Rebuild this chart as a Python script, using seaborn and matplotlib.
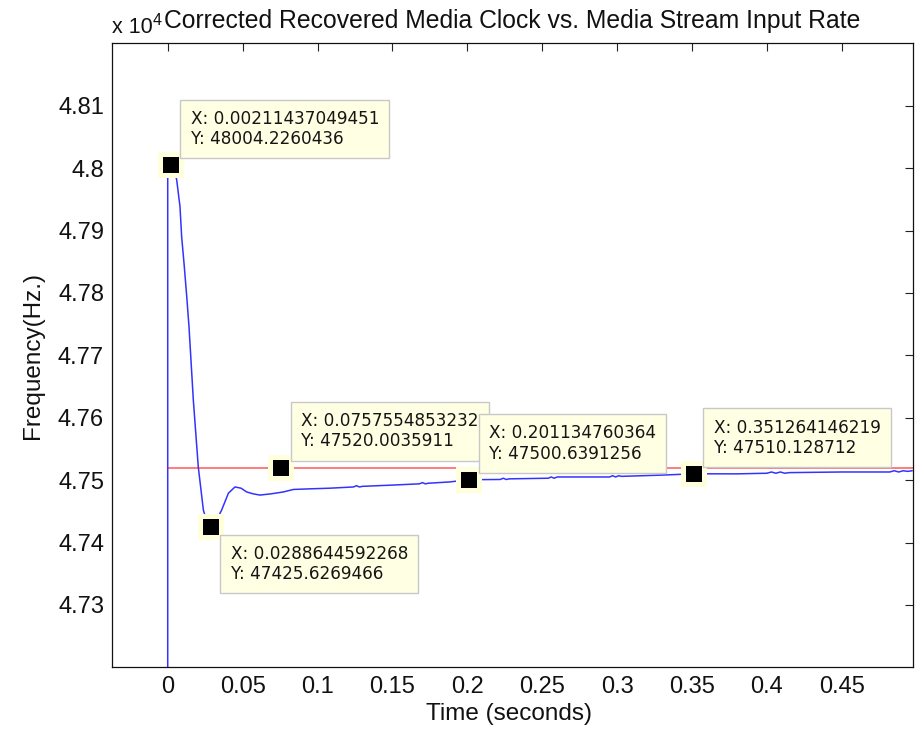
import matplotlib
matplotlib.use("Agg")
import matplotlib.pyplot as plt
import seaborn as sns
import pandas as pd

# Recovered media clock frequency over time (Hz)
time_s = [
    0.0, 0.0, 0.00211437049451, 0.0035, 0.0048, 0.0060, 0.0082, 0.0093,
    0.0109, 0.0127, 0.0142, 0.0171, 0.0204, 0.0238, 0.0265, 0.0288644592268,
    0.0320, 0.0360, 0.0405, 0.0449, 0.0490, 0.0527, 0.0570, 0.0616,
    0.0690, 0.0772, 0.0839, 0.0950, 0.1080, 0.1240, 0.1260, 0.1280,
    0.1300, 0.1500, 0.1680, 0.1700, 0.1720, 0.1740, 0.1880, 0.201134760364,
    0.2220, 0.2240, 0.2260, 0.2280, 0.2540, 0.2560, 0.2580, 0.2600,
    0.2950, 0.2970, 0.2990, 0.3010, 0.3030, 0.3300, 0.351264146219, 0.3800,
    0.4000, 0.4030, 0.4060, 0.4090, 0.4120, 0.4150, 0.4500, 0.4820,
    0.4850, 0.4880, 0.4910, 0.4940, 0.4970,
]
freq_hz = [
    47000, 48003, 48004.2260436, 48000, 47993, 47981, 47938, 47890,
    47847, 47794, 47746, 47628, 47521, 47452, 47430, 47425.6269466,
    47433, 47452, 47479, 47489, 47487, 47481, 47478, 47476,
    47478, 47481, 47485, 47486, 47487, 47489, 47491, 47489,
    47490, 47492, 47494, 47496, 47494, 47495, 47497, 47500.6391256,
    47501, 47503, 47501, 47502, 47503, 47505, 47503, 47505,
    47505, 47507, 47505, 47507, 47506, 47508, 47510.128712, 47510,
    47511, 47513, 47511, 47513, 47511, 47512, 47513, 47513,
    47515, 47513, 47515, 47514, 47515,
]

# Media stream input rate (Hz)
input_time_s = [0.0, 0.5]
input_rate_hz = [47520.0035911, 47520.0035911]

# Data cursor readouts
tip_x = [0.00211437049451, 0.0288644592268, 0.0757554853232,
         0.201134760364, 0.351264146219]
tip_y = [48004.2260436, 47425.6269466, 47520.0035911,
         47500.6391256, 47510.128712]
tip_x_text = ["0.00211437049451", "0.0288644592268", "0.0757554853232",
              "0.201134760364", "0.351264146219"]
tip_y_text = ["48004.2260436", "47425.6269466", "47520.0035911",
              "47500.6391256", "47510.128712"]

xtick_vals = [0, 0.05, 0.1, 0.15, 0.2, 0.25, 0.3, 0.35, 0.4, 0.45]
xtick_labels = ["0", "0.05", "0.1", "0.15", "0.2", "0.25", "0.3", "0.35", "0.4", "0.45"]
ytick_vals = [47300, 47400, 47500, 47600, 47700, 47800, 47900, 48000, 48100]
ytick_labels = ["4.73", "4.74", "4.75", "4.76", "4.77", "4.78", "4.79", "4.8", "4.81"]

sns.set_style("white")
plt.rcParams["font.family"] = ["Liberation Sans", "DejaVu Sans"]

W, H = 918, 731
fig = plt.figure(figsize=(W / 100, H / 100), dpi=100)
ax = fig.add_axes([111.7 / W, (H - 667.3) / H, 800.8 / W, 624.0 / H])

clock = pd.DataFrame({"t": time_s, "f": freq_hz})
rate = pd.DataFrame({"t": input_time_s, "f": input_rate_hz})
tips = pd.DataFrame({"t": tip_x, "f": tip_y})

sns.lineplot(data=clock, x="t", y="f", ax=ax, sort=False, estimator=None,
             color="#0000ff", alpha=0.8, lw=1.1, zorder=2)
sns.lineplot(data=rate, x="t", y="f", ax=ax, sort=False, estimator=None,
             color="#ff0000", alpha=0.65, lw=1.1, zorder=2)

# data cursor markers: pale halo behind a black square
sns.scatterplot(data=tips, x="t", y="f", ax=ax, marker="s", s=19.0 ** 2,
                color="#ffffdc", linewidth=0, zorder=4)
sns.scatterplot(data=tips, x="t", y="f", ax=ax, marker="s", s=11.0 ** 2,
                color="black", linewidth=0, zorder=5)

ax.set_xlim(-0.0374, 0.4972)
ax.set_ylim(47200, 48200)
ax.set_xticks(xtick_vals)
ax.set_xticklabels(xtick_labels)
ax.set_yticks(ytick_vals)
ax.set_yticklabels(ytick_labels)
ax.tick_params(direction="in", length=6, width=0.8, colors="#222222",
               top=True, right=True, labelsize=17, labelcolor="#111111")
ax.tick_params(axis="x", pad=6.0)
ax.tick_params(axis="y", pad=5.5)
for sp in ax.spines.values():
    sp.set_color("#111111")
    sp.set_linewidth(0.9)

ax.set_xlabel("Time (seconds)", fontsize=17.5, color="#111111")
ax.set_ylabel("Frequency(Hz.)", fontsize=17.5, color="#111111")
ax.xaxis.set_label_coords(0.4961, -0.057)
ax.yaxis.set_label_coords(-0.084, 0.5)

ax.set_title("Corrected Recovered Media Clock vs. Media Stream Input Rate",
             fontsize=17.8, pad=11, color="#111111")
fig.text(111.7 / W, (H - 33.3) / H, "x 10", fontsize=15.5, color="#111111",
         ha="left", va="baseline")
fig.text(152.5 / W, (H - 25.0) / H, "4", fontsize=11.5, color="#111111",
         ha="left", va="baseline")

# readout boxes: (above/below marker), later ones drawn on top
orient = ["up", "down", "up", "up", "up"]
pad_frac = 0.6
tip_fs = 12.2
pad_px = pad_frac * tip_fs * 100 / 72
for i, (x, y, xs, ys, o) in enumerate(zip(tip_x, tip_y, tip_x_text, tip_y_text, orient)):
    dx = 9.5 + pad_px
    if o == "up":
        dy, va = 7.0 + pad_px, "bottom"
    else:
        dy, va = -(8.0 + pad_px), "top"
    ax.annotate(f"X: {xs}\nY: {ys}", xy=(x, y), xytext=(dx, dy),
                textcoords="offset pixels", ha="left", va=va,
                fontsize=tip_fs, family="DejaVu Sans", color="#151515",
                linespacing=1.15, zorder=6 + i, annotation_clip=False,
                bbox=dict(boxstyle=f"square,pad={pad_frac}", fc="#ffffe4",
                          ec="#c8c8c8", lw=1.0))

fig.savefig("out.png", dpi=100)
